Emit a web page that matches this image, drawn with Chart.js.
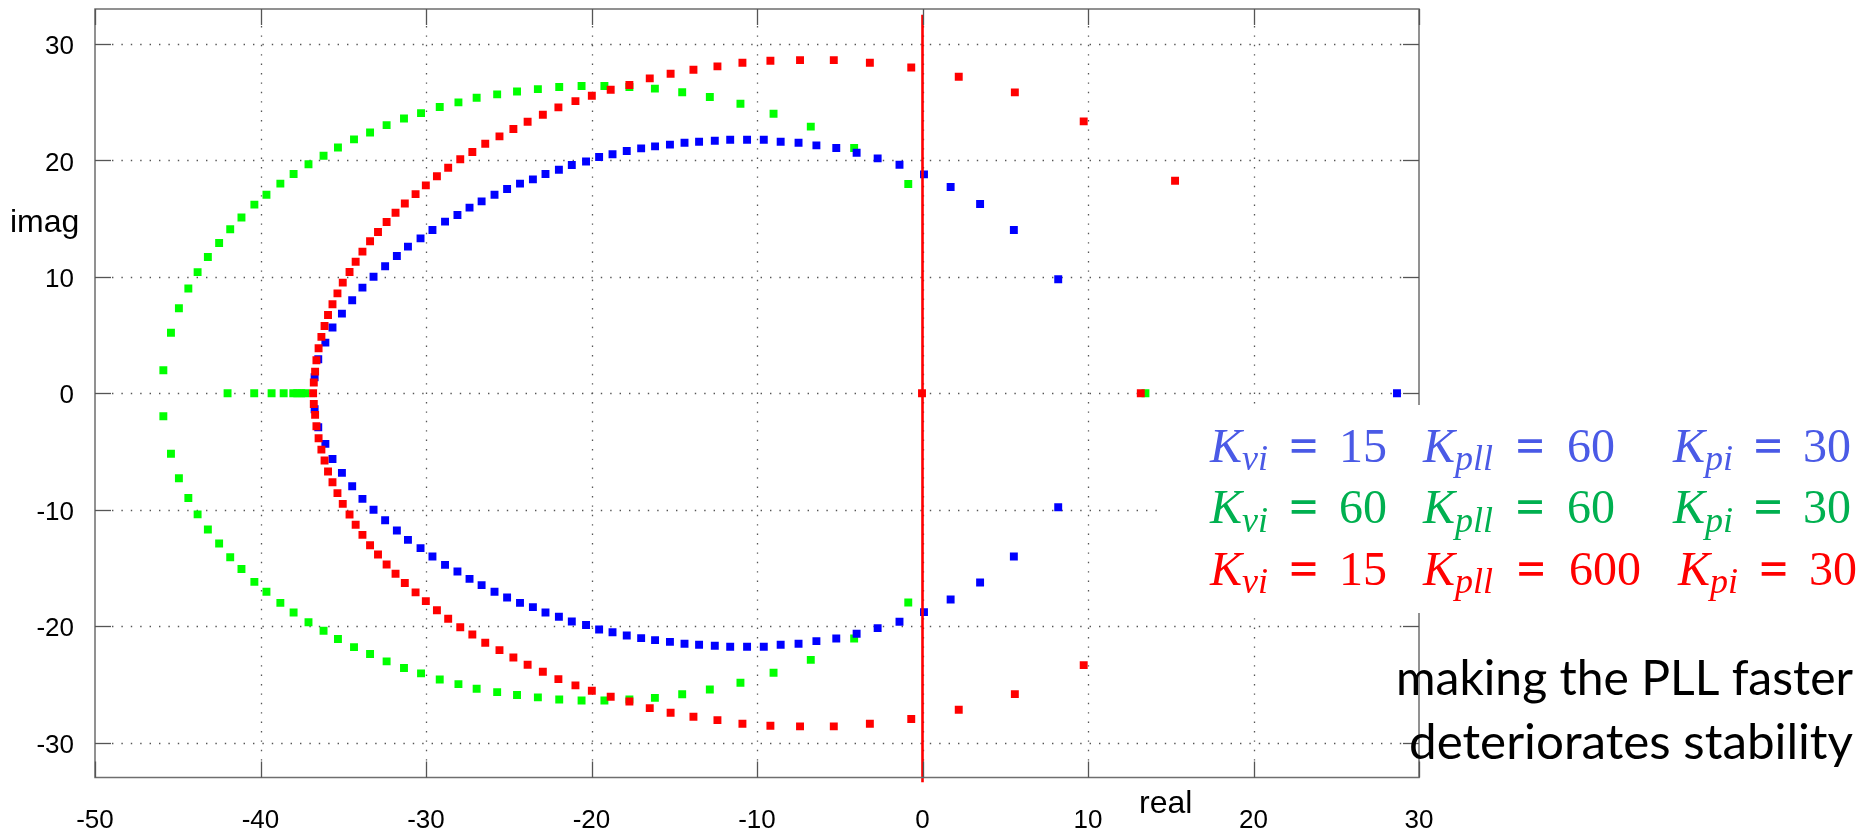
<!DOCTYPE html>
<html><head><meta charset="utf-8">
<script src="https://cdn.jsdelivr.net/npm/chart.js@4"></script>
<style>html,body{margin:0;padding:0;background:#fff;overflow:hidden}#wrap{width:1864px;height:835px;position:relative}</style>
</head><body><div id="wrap"><canvas id="c" width="1864" height="835"></canvas></div>
<script>
// ---------- data ----------
const xTicks = [-50, -40, -30, -20, -10, 0, 10, 20, 30];
const yTicks = [-30, -20, -10, 0, 10, 20, 30];
const xRange = [-50, 30];
const yRange = [-33, 33];

// Kvi=15, Kpll=60, Kpi=30 (blue)
const blueRe = [-36.73,-36.51,-36.08,-35.65,-35.08,-34.46,-33.84,-33.17,-32.47,-31.76,-31.09,-30.33,-29.61,-28.85,-28.10,-27.37,-26.64,-25.86,-25.10,-24.32,-23.54,-22.78,-21.97,-21.19,-20.33,-19.54,-18.73,-17.87,-17.00,-16.16,-15.26,-14.38,-13.50,-12.55,-11.62,-10.60,-9.59,-8.57,-7.49,-6.41,-5.21,-3.98,-2.71,-1.39,0.09,1.70,3.48,5.52,8.20];
const blueImPos = [1.37,2.92,4.35,5.64,6.84,7.98,9.07,10.01,10.90,11.79,12.59,13.30,14.02,14.74,15.31,15.94,16.48,17.05,17.54,18.00,18.37,18.83,19.20,19.60,19.91,20.29,20.52,20.80,21.03,21.20,21.35,21.52,21.60,21.69,21.77,21.77,21.77,21.60,21.52,21.29,21.06,20.66,20.17,19.63,18.80,17.71,16.25,14.02,9.79];
const blueImNeg = [-1.37,-2.92,-4.35,-5.64,-6.84,-7.98,-9.07,-10.01,-10.90,-11.79,-12.59,-13.30,-14.02,-14.74,-15.31,-15.94,-16.48,-17.05,-17.54,-18.00,-18.37,-18.83,-19.20,-19.60,-19.91,-20.29,-20.52,-20.80,-21.03,-21.20,-21.35,-21.52,-21.60,-21.69,-21.77,-21.77,-21.77,-21.60,-21.52,-21.29,-21.06,-20.66,-20.17,-19.63,-18.80,-17.71,-16.25,-14.02,-9.79];
const blueAxisRe = [28.67];
const blueAxisIm = [0];

// Kvi=60, Kpll=60, Kpi=30 (green)
const greenRe = [-45.87,-45.41,-44.93,-44.36,-43.80,-43.18,-42.50,-41.83,-41.15,-40.37,-39.64,-38.80,-38.00,-37.10,-36.19,-35.32,-34.35,-33.38,-32.38,-31.33,-30.30,-29.17,-28.04,-26.94,-25.70,-24.50,-23.24,-21.95,-20.60,-19.22,-17.71,-16.17,-14.52,-12.85,-11.00,-9.00,-6.75,-4.13,-0.86];
const greenImPos = [1.97,5.20,7.30,9.00,10.40,11.70,12.90,14.08,15.10,16.20,17.05,18.00,18.83,19.66,20.40,21.10,21.80,22.40,23.03,23.60,24.06,24.58,24.98,25.38,25.67,25.92,26.12,26.30,26.38,26.38,26.30,26.16,25.85,25.44,24.86,24.00,22.90,21.06,17.97];
const greenImNeg = [-1.97,-5.20,-7.30,-9.00,-10.40,-11.70,-12.90,-14.08,-15.10,-16.20,-17.05,-18.00,-18.83,-19.66,-20.40,-21.10,-21.80,-22.40,-23.03,-23.60,-24.06,-24.58,-24.98,-25.38,-25.67,-25.92,-26.12,-26.30,-26.38,-26.38,-26.30,-26.16,-25.85,-25.44,-24.86,-24.00,-22.90,-21.06,-17.97];
const greenAxisRe = [-41.99,-40.38,-39.33,-38.60,-38.02,-37.78,-37.54,-37.30,13.47];
const greenAxisIm = [0,0,0,0,0,0,0,0,0];

// Kvi=15, Kpll=600, Kpi=30 (red)
const redRe = [-36.78,-36.70,-36.62,-36.49,-36.32,-36.13,-35.92,-35.65,-35.35,-35.03,-34.62,-34.25,-33.84,-33.38,-32.90,-32.38,-31.84,-31.28,-30.63,-30.01,-29.34,-28.66,-27.93,-27.20,-26.42,-25.56,-24.72,-23.86,-22.94,-22.00,-20.97,-19.98,-18.84,-17.71,-16.48,-15.22,-13.84,-12.39,-10.88,-9.19,-7.40,-5.36,-3.18,-0.68,2.19,5.58,9.74,15.26];
const redImPos = [0.92,1.86,2.83,3.86,4.84,5.78,6.72,7.64,8.58,9.50,10.41,11.30,12.16,13.05,13.85,14.70,15.50,16.30,17.10,17.85,18.63,19.37,20.09,20.72,21.43,22.06,22.69,23.32,23.92,24.55,25.09,25.55,26.07,26.47,27.04,27.44,27.78,28.07,28.38,28.56,28.61,28.61,28.38,27.98,27.18,25.84,23.35,18.25];
const redImNeg = [-0.92,-1.86,-2.83,-3.86,-4.84,-5.78,-6.72,-7.64,-8.58,-9.50,-10.41,-11.30,-12.16,-13.05,-13.85,-14.70,-15.50,-16.30,-17.10,-17.85,-18.63,-19.37,-20.09,-20.72,-21.43,-22.06,-22.69,-23.32,-23.92,-24.55,-25.09,-25.55,-26.07,-26.47,-27.04,-27.44,-27.78,-28.07,-28.38,-28.56,-28.61,-28.61,-28.38,-27.98,-27.18,-25.84,-23.35,-18.25];
const redAxisRe = [-36.82,-0.03,13.19];
const redAxisIm = [0,0,0];

// imaginary axis marker (red vertical line at real = 0)
const zeroLineRe = [0, 0];
const zeroLineIm = [32.5, -33.4];

// annotation text
const gainLines = [
  {color:'#4a5ae6', groups:[{sub:'vi',num:'15'},{sub:'pll',num:'60'},{sub:'pi',num:'30'}]},
  {color:'#00b050', groups:[{sub:'vi',num:'60'},{sub:'pll',num:'60'},{sub:'pi',num:'30'}]},
  {color:'#ff0000', groups:[{sub:'vi',num:'15'},{sub:'pll',num:'600'},{sub:'pi',num:'30'}]}
];
const noteLines = ['making the PLL faster', 'deteriorates stability'];

// ---------- helpers ----------
function pts(re, im){ return re.map((x,i)=>({x:x, y:im[i]})); }

// layout of annotation pieces (pixels)
const gainSpans = [
  [[1210,1387],[1423,1615],[1673,1851]],
  [[1210,1387],[1423,1615],[1673,1851]],
  [[1210,1387],[1423,1641],[1678,1857]]
];
const gainBaselines = [461.7, 523, 584.5];

function drawGroup(ctx, g, span, base, color){
  const F = '"Liberation Serif", "DejaVu Serif", serif';
  ctx.fillStyle = color;
  ctx.font = 'italic 48px ' + F; const wK = ctx.measureText('K').width;
  ctx.font = 'italic 36px ' + F; const wS = ctx.measureText(g.sub).width;
  ctx.font = '48px ' + F; const wE = ctx.measureText('=').width; const wN = ctx.measureText(g.num).width;
  const gap = (span[1]-span[0]-wK-wS-wE-wN)/2;
  let x = span[0];
  ctx.textBaseline = 'alphabetic'; ctx.textAlign = 'left';
  ctx.font = 'italic 48px ' + F; ctx.fillText('K', x, base); x += wK;
  ctx.font = 'italic 36px ' + F; ctx.fillText(g.sub, x, base + 8.5); x += wS + gap;
  ctx.font = '48px ' + F;
  ctx.save(); ctx.fillText('=', x, base); ctx.strokeStyle = color; ctx.lineWidth = 1.4; ctx.strokeText('=', x, base); ctx.restore();
  x += wE + gap;
  ctx.fillText(g.num, x, base);
}

function fitText(ctx, txt, right, base, width, font){
  ctx.font = font;
  const w = ctx.measureText(txt).width;
  const s = width / w;
  ctx.save();
  ctx.translate(right - width, base);
  ctx.scale(s, 1);
  ctx.textAlign = 'left'; ctx.textBaseline = 'alphabetic';
  ctx.fillText(txt, 0, 0);
  ctx.restore();
}

const gnuFrame = {
  id: 'gnuFrame',
  beforeDatasetsDraw(chart){
    const {ctx, chartArea:a, scales:{x, y}} = chart;
    ctx.save();
    ctx.strokeStyle = '#555';
    ctx.lineWidth = 1.3;
    ctx.setLineDash([1.4, 8]);
    yTicks.forEach(v=>{
      const py = Math.round(y.getPixelForValue(v)) + 0.5;
      ctx.beginPath(); ctx.moveTo(a.left+17, py); ctx.lineTo(a.right-17, py); ctx.stroke();
    });
    xTicks.forEach(v=>{
      if (v === xRange[0] || v === xRange[1]) return;
      const px = Math.round(x.getPixelForValue(v)) + 0.5;
      ctx.beginPath(); ctx.moveTo(px, a.top+17); ctx.lineTo(px, a.bottom-17); ctx.stroke();
    });
    ctx.restore();
  },
  afterDatasetsDraw(chart){
    const {ctx, chartArea:a, scales:{x, y}} = chart;
    ctx.save();
    ctx.setLineDash([]);
    ctx.strokeStyle = '#6e6e6e';
    ctx.lineWidth = 1.5;
    ctx.strokeRect(a.left, a.top, a.right-a.left, a.bottom-a.top);
    ctx.strokeStyle = '#555';
    ctx.lineWidth = 1.3;
    yTicks.forEach(v=>{
      const py = Math.round(y.getPixelForValue(v)) + 0.5;
      ctx.beginPath(); ctx.moveTo(a.left, py); ctx.lineTo(a.left+16, py); ctx.stroke();
      ctx.beginPath(); ctx.moveTo(a.right-16, py); ctx.lineTo(a.right, py); ctx.stroke();
    });
    xTicks.forEach(v=>{
      const px = Math.round(x.getPixelForValue(v)) + 0.5;
      ctx.beginPath(); ctx.moveTo(px, a.bottom); ctx.lineTo(px, a.bottom-16); ctx.stroke();
      ctx.beginPath(); ctx.moveTo(px, a.top); ctx.lineTo(px, a.top+16); ctx.stroke();
    });
    ctx.restore();
  },
  afterDraw(chart){
    const ctx = chart.ctx;
    ctx.save();
    ctx.fillStyle = '#000';
    ctx.font = '32px "Liberation Sans", Arial, sans-serif';
    ctx.textAlign = 'left'; ctx.textBaseline = 'alphabetic';
    ctx.fillText('imag', 10, 232);
    ctx.fillText('real', 1139, 813);
    // white panel behind gain annotation
    ctx.fillStyle = '#fff';
    ctx.fillRect(1161, 405, 703, 208);
    gainLines.forEach((ln, i)=>{
      ln.groups.forEach((g, j)=> drawGroup(ctx, g, gainSpans[i][j], gainBaselines[i], ln.color));
    });
    ctx.fillStyle = '#000';
    fitText(ctx, noteLines[0], 1853, 695, 457, '48px Lato, "Open Sans", sans-serif');
    fitText(ctx, noteLines[1], 1853, 759, 444, '48px Lato, "Open Sans", sans-serif');
    ctx.restore();
  }
};

const markerR = 5.6;
function pointSet(label, color, data){
  return {label, data, showLine:false, pointStyle:'rect', pointRadius:markerR, pointHoverRadius:markerR,
    pointBackgroundColor:color, backgroundColor:color, pointBorderWidth:0, borderWidth:0, borderColor:color};
}

const tickFont = {family:'"Liberation Sans", Arial, sans-serif', size:26};

new Chart(document.getElementById('c'), {
  type:'scatter',
  data:{datasets:[
    {label:'Re=0', data: pts(zeroLineRe, zeroLineIm), showLine:true, borderColor:'#ff0000', borderWidth:2.6, pointRadius:0, pointHoverRadius:0, clip:false, fill:false},
    pointSet('Kvi=15 Kpll=600 Kpi=30', '#ff0000', pts(redRe, redImPos).concat(pts(redRe, redImNeg), pts(redAxisRe, redAxisIm))),
    pointSet('Kvi=15 Kpll=60 Kpi=30', '#0000ff', pts(blueRe, blueImPos).concat(pts(blueRe, blueImNeg), pts(blueAxisRe, blueAxisIm))),
    pointSet('Kvi=60 Kpll=60 Kpi=30', '#00ff00', pts(greenRe, greenImPos).concat(pts(greenRe, greenImNeg), pts(greenAxisRe, greenAxisIm)))
  ]},
  options:{
    responsive:false, animation:false, devicePixelRatio:1,
    layout:{padding:{left:0, top:9, right:445, bottom:0}},
    plugins:{legend:{display:false}, tooltip:{enabled:false}},
    events:[],
    scales:{
      x:{type:'linear', min:xRange[0], max:xRange[1],
        afterBuildTicks(s){ s.ticks = xTicks.map(v=>({value:v})); },
        afterFit(s){ s.height = 57.5; s.paddingLeft = 0; s.paddingRight = 0; s.paddingTop = 0; s.paddingBottom = 0; },
        ticks:{font:tickFont, color:'#000', padding:28, maxRotation:0, autoSkip:false},
        grid:{display:false, drawTicks:false}, border:{display:false}},
      y:{type:'linear', min:yRange[0], max:yRange[1],
        afterBuildTicks(s){ s.ticks = yTicks.map(v=>({value:v})); },
        afterFit(s){ s.width = 95; s.paddingTop = 0; s.paddingBottom = 0; s.paddingLeft = 0; s.paddingRight = 0; },
        ticks:{font:tickFont, color:'#000', padding:21, labelOffset:3, autoSkip:false},
        grid:{display:false, drawTicks:false}, border:{display:false}}
    }
  },
  plugins:[gnuFrame]
});
</script>
</body></html>
